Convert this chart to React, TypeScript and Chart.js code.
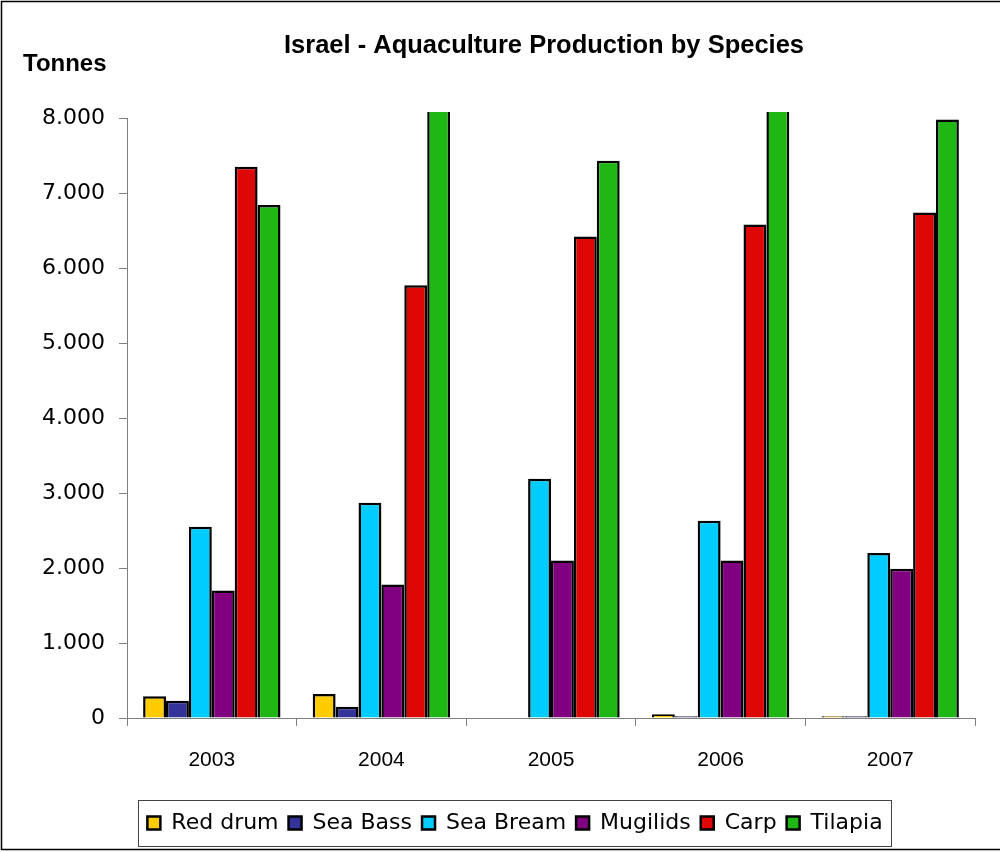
import React, { useEffect, useRef } from 'react';
import { Chart, registerables } from 'chart.js';

Chart.register(...registerables);

// ---- data ----
const years = ['2003', '2004', '2005', '2006', '2007'];
const redDrum = [290, 320, 0, 50, 25];
const seaBass = [230, 150, 0, 25, 25];
const seaBream = [2550, 2870, 3190, 2630, 2200];
const mugilids = [1700, 1780, 2100, 2100, 1990];
const carp = [7350, 5770, 6420, 6580, 6740];
const tilapia = [6840, 8600, 7430, 8700, 7980];
const yTickLabels = ['0', '1.000', '2.000', '3.000', '4.000', '5.000', '6.000', '7.000', '8.000'];
const seriesNames = ['Red drum', 'Sea Bass', 'Sea Bream', 'Mugilids', 'Carp', 'Tilapia'];
const seriesColors = ['#FFCC00', '#333399', '#00CCFF', '#800080', '#DD0806', '#1FB714'];
const chartTitle = 'Israel - Aquaculture Production by Species';
const yTitle = 'Tonnes';

const SANS = '"Liberation Sans", Arial, sans-serif';
const WIDE = '"DejaVu Sans", Verdana, sans-serif';

const framePlugin = {
  id: 'frame',
  afterLayout(chart: any) {
    // centre the legend row as in the reference
    if (chart.legend) {
      chart.legend.left = 55;
    }
  },
  afterDraw(chart: any) {
    const ctx = chart.ctx;
    ctx.save();
    // outer chart border
    ctx.strokeStyle = '#000';
    ctx.lineWidth = 1.5;
    ctx.strokeRect(1.5, 1.5, chart.width + 10, 848);
    // title
    ctx.fillStyle = '#000';
    ctx.font = `bold 25.5px ${SANS}`;
    ctx.textAlign = 'center';
    ctx.textBaseline = 'alphabetic';
    ctx.fillText(chartTitle, 544, 53);
    // axis title
    ctx.font = `bold 24px ${SANS}`;
    ctx.textAlign = 'left';
    ctx.fillText(yTitle, 23, 71);
    // legend box
    const hbs = chart.legend && chart.legend.legendHitBoxes;
    if (hbs && hbs.length) {
      let l = Infinity;
      let r = -Infinity;
      hbs.forEach((h: any) => {
        l = Math.min(l, h.left);
        r = Math.max(r, h.left + h.width);
      });
      const cy = hbs[0].top + hbs[0].height / 2;
      ctx.strokeStyle = '#444';
      ctx.lineWidth = 1;
      ctx.strokeRect(Math.round(l - 9) + 0.5, Math.round(cy - 23) + 0.5, Math.round(r - l + 18), 46);
    }
    ctx.restore();
  },
};

export default function App() {
  const ref = useRef<HTMLCanvasElement | null>(null);

  useEffect(() => {
    if (!ref.current) return;
    const values = [redDrum, seaBass, seaBream, mugilids, carp, tilapia];
    const chart = new Chart(ref.current, {
      type: 'bar',
      data: {
        labels: years,
        datasets: values.map((d, i) => ({
          label: seriesNames[i],
          data: d,
          backgroundColor: seriesColors[i],
          borderColor: '#000',
          borderWidth: 2.5,
          categoryPercentage: 0.81,
          barPercentage: 1,
          clip: { left: 5, right: 5, top: 6, bottom: 0 },
        })),
      },
      options: {
        responsive: false,
        animation: false,
        devicePixelRatio: 1,
        layout: { padding: { left: 30, right: 25, top: 118, bottom: 8 } },
        plugins: {
          title: { display: false },
          tooltip: { enabled: false },
          legend: {
            position: 'bottom',
            labels: {
              boxWidth: 13,
              boxHeight: 13,
              padding: 10,
              color: '#000',
              font: { family: WIDE, size: 22 },
            },
          },
        },
        scales: {
          x: {
            grid: {
              offset: true,
              drawOnChartArea: false,
              drawTicks: true,
              tickLength: 8,
              color: '#808080',
            },
            border: { display: true, color: '#808080', width: 1 },
            ticks: {
              color: '#000',
              padding: 22,
              font: { family: SANS, size: 21 },
              maxRotation: 0,
            },
            afterFit(scale: any) {
              scale.height = 84;
            },
          },
          y: {
            min: 0,
            max: 8000,
            grid: {
              drawOnChartArea: false,
              drawTicks: true,
              tickLength: 8,
              color: '#808080',
            },
            border: { display: true, color: '#808080', width: 1 },
            ticks: {
              stepSize: 1000,
              color: '#000',
              padding: 14,
              font: { family: WIDE, size: 22 },
              callback: (_v: any, i: number) => yTickLabels[i],
            },
            afterFit(scale: any) {
              scale.width = 97;
            },
          },
        },
      },
      plugins: [framePlugin],
    } as any);
    return () => chart.destroy();
  }, []);

  return (
    <div style={{ position: 'absolute', left: 0, top: 0, width: 1000, height: 852, background: '#fff' }}>
      <canvas ref={ref} width={1000} height={852} style={{ width: 1000, height: 852, display: 'block' }} />
    </div>
  );
}
